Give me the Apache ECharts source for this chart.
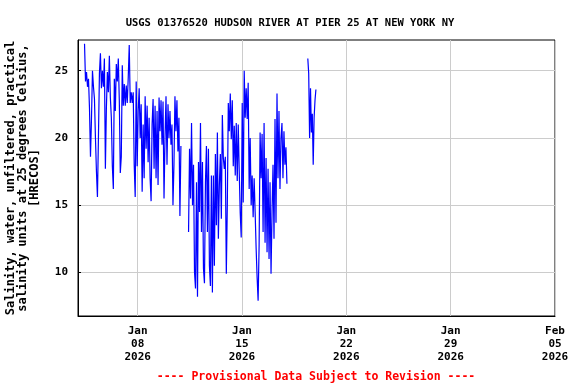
<!DOCTYPE html>
<html>
<head>
<meta charset="utf-8">
<script src="https://cdn.jsdelivr.net/npm/echarts@6/dist/echarts.min.js"></script>
<style>
html, body { margin: 0; padding: 0; background: #ffffff; }
#mainChart { width: 576px; height: 384px; }
</style>
</head>
<body>
<div id="mainChart"></div>
<script>
// salinity readings, 3 stretches of record with gaps between them
var seg1Start = '2026-01-04T10:30:00';
var seg1StepHours = 1.6;
var seg1Values = [27.0, 24.2, 24.9, 23.8, 24.4, 22.2, 18.6, 21.4, 25.0, 23.8,
	22.9, 20.0, 17.5, 15.6, 20.0, 24.8, 26.3, 23.7, 25.0, 23.8,
	25.9, 17.7, 22.2, 24.9, 23.4, 26.1, 23.0, 21.5, 17.9, 16.2,
	24.4, 22.0, 25.5, 24.2, 25.9, 22.8, 17.4, 18.6, 25.4, 22.4,
	24.0, 22.4, 23.9, 22.6, 24.5, 26.9, 22.6, 23.4, 22.6, 23.4,
	18.0, 15.6, 24.2, 17.9, 22.0, 23.7, 20.0, 22.5, 16.0, 21.0,
	17.0, 23.1, 19.2, 22.4, 18.2, 21.5, 17.0, 15.3, 21.0, 22.9,
	17.7, 22.4, 17.0, 22.0, 16.5, 23.0, 20.5, 22.8, 19.5, 22.7,
	15.5, 20.0, 23.1, 18.0, 22.5, 20.0, 22.0, 19.5, 21.0, 15.0,
	18.0, 23.1, 20.5, 22.8, 19.0, 21.5, 14.2, 19.4];

var seg2Start = '2026-01-11T10:00:00';
var seg2StepHours = 1.6;
var seg2Values = [13.0, 19.2, 15.5, 21.1, 15.0, 18.0, 10.0, 8.8, 16.7, 8.2,
	18.2, 14.5, 21.1, 13.0, 18.2, 10.3, 9.2, 16.7, 19.4, 13.0,
	19.2, 10.5, 9.0, 17.2, 8.5, 17.2, 10.5, 18.8, 13.5, 20.4,
	12.5, 16.5, 18.8, 14.0, 21.7, 18.5, 17.7, 18.6, 9.9, 15.0,
	22.6, 20.5, 23.3, 19.9, 22.8, 17.9, 20.9, 17.2, 21.1, 16.8,
	21.0, 17.5, 14.4, 12.6, 22.6, 15.2, 25.0, 21.5, 23.7, 21.4,
	24.1, 16.2, 20.0, 15.0, 17.2, 14.1, 17.0, 14.5, 11.8, 9.6,
	7.9, 12.0, 20.4, 17.0, 20.3, 13.0, 21.1, 12.2, 18.5, 11.5,
	17.7, 11.0, 16.7, 9.9, 14.5, 18.0, 12.5, 21.4, 13.7, 23.3,
	17.0, 22.0, 16.2, 20.0, 21.1, 17.0, 20.5, 18.0, 19.3, 16.6];

var seg3Start = '2026-01-19T10:00:00';
var seg3StepHours = 1.45;
var seg3Values = [25.9, 24.8, 20.0, 23.7, 20.4, 21.8, 18.0, 21.5, 22.8, 23.6];

// x axis is counted in days from this date
var epoch = '2026-01-01T00:00:00';
var xMin = '2026-01-04T00:00:00';
var xMax = '2026-02-05T00:00:00';
var xTickDates = ['2026-01-08T00:00:00', '2026-01-15T00:00:00', '2026-01-22T00:00:00',
	'2026-01-29T00:00:00', '2026-02-05T00:00:00'];
var yTicks = [10, 15, 20, 25];
var yMin = 6.76;
var yMax = 27.28;
var monthNames = ['Jan', 'Feb', 'Mar', 'Apr', 'May', 'Jun', 'Jul', 'Aug', 'Sep', 'Oct', 'Nov', 'Dec'];

var DAY = 86400000;
function dayOf(s) { return (new Date(s).getTime() - new Date(epoch).getTime()) / DAY; }

function buildData() {
	var out = [];
	var segs = [[seg1Start, seg1StepHours, seg1Values],
		[seg2Start, seg2StepHours, seg2Values],
		[seg3Start, seg3StepHours, seg3Values]];
	for (var i = 0; i < segs.length; i++) {
		var d0 = dayOf(segs[i][0]);
		var vals = segs[i][2];
		for (var j = 0; j < vals.length; j++) {
			out.push([d0 + j * segs[i][1] / 24, vals[j]]);
		}
		// break the line between stretches
		out.push([d0 + vals.length * segs[i][1] / 24, null]);
	}
	return out;
}

function pad2(n) { return n < 10 ? '0' + n : '' + n; }

var font = 'DejaVu Sans Mono';
var xTicks = xTickDates.map(dayOf);
var myChart = echarts.init(document.getElementById('mainChart'));
var option = {
	backgroundColor: '#ffffff',
	animation: false,
	title: [{
		text: 'USGS 01376520 HUDSON RIVER AT PIER 25 AT NEW YORK NY',
		left: 285, top: 13, textAlign: 'center',
		textStyle: { fontFamily: font, fontSize: 10.5, fontWeight: 'bold', color: '#000' }
	}, {
		text: '---- Provisional Data Subject to Revision ----',
		left: 311, top: 366, textAlign: 'center',
		textStyle: { fontFamily: font, fontSize: 11.5, fontWeight: 'bold', color: '#ff0000' }
	}],
	grid: {
		left: 78, top: 40, right: 21, bottom: 68,
		outerBoundsMode: 'none',
		containLabel: false,
		show: true, borderColor: '#000', borderWidth: 1
	},
	xAxis: {
		type: 'value',
		min: dayOf(xMin), max: dayOf(xMax),
		axisLine: { show: true, lineStyle: { color: '#000' } },
		axisTick: { show: false, customValues: xTicks },
		splitLine: { show: true, lineStyle: { color: '#cccccc', width: 1 } },
		axisLabel: {
			customValues: xTicks,
			margin: 9,
			fontFamily: font, fontSize: 11, fontWeight: 'bold', color: '#000', lineHeight: 13,
			formatter: function (v) {
				var d = new Date(new Date(epoch).getTime() + Math.round(v * DAY));
				return monthNames[d.getMonth()] + '\n' + pad2(d.getDate()) + '\n' + d.getFullYear();
			}
		}
	},
	yAxis: {
		type: 'value',
		min: yMin, max: yMax,
		name: 'Salinity, water, unfiltered, practical\nsalinity units at 25 degrees Celsius,\n[HRECOS]',
		nameLocation: 'middle',
		nameGap: 37,
		nameTextStyle: { fontFamily: font, fontSize: 12, fontWeight: 'bold', color: '#000', lineHeight: 12 },
		axisLine: { show: true, lineStyle: { color: '#000' } },
		axisTick: { show: true, inside: true, length: 3, customValues: yTicks, lineStyle: { color: '#000' } },
		splitLine: { show: true, lineStyle: { color: '#cccccc', width: 1 } },
		axisLabel: {
			customValues: yTicks,
			margin: 10,
			fontFamily: font, fontSize: 11, fontWeight: 'bold', color: '#000'
		}
	},
	series: [{
		name: 'salinity',
		type: 'line',
		data: buildData(),
		showSymbol: false,
		connectNulls: false,
		lineStyle: { color: '#0000ff', width: 1.2 },
		itemStyle: { color: '#0000ff' }
	}]
};
myChart.setOption(option, true);
</script>
</body>
</html>
